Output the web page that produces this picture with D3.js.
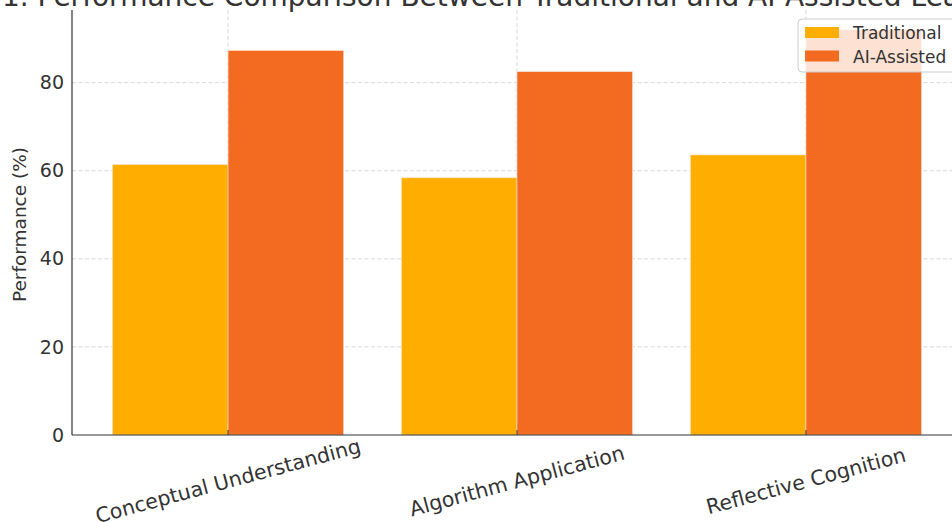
<!DOCTYPE html>
<html>
<head>
<meta charset="utf-8">
<script src="https://cdn.jsdelivr.net/npm/d3@7"></script>
<style>
  body { margin: 0; background: #fff; }
  svg { display: block; font-family: "DejaVu Sans", sans-serif; }
</style>
</head>
<body>
<div id="chart"></div>
<script>
const width = 952;
const height = 522;

// data
const categories = ['Conceptual Understanding', 'Algorithm Application', 'Reflective Cognition'];
const seriesNames = ['Traditional', 'AI-Assisted'];
const traditional = [61.4, 58.4, 63.6];
const aiAssisted = [87.3, 82.5, 92.0];
const yTicks = [0, 20, 40, 60, 80];
const colors = ['#ffae00', '#f36a21'];

const values = [traditional, aiAssisted];

// plot area (right side runs past the window, as in the picture)
const plotLeft = 72, plotRight = 962, plotTop = 10, plotBottom = 435;

let svg = d3.select('#chart').append('svg')
  .attr('width', width)
  .attr('height', height);

let x = d3.scaleBand()
  .domain(categories)
  .range([plotLeft, plotRight])
  .paddingInner(0.2)
  .paddingOuter(0.14);

let xs = d3.scaleBand()
  .domain(seriesNames)
  .range([0, x.bandwidth()]);

let y = d3.scaleLinear()
  .domain([0, 96.5])
  .range([plotBottom, plotTop]);

// grid
let grid = svg.append('g');
grid.selectAll('line.hg')
  .data(yTicks.slice(1))
  .enter().append('line')
  .attr('x1', plotLeft).attr('x2', plotRight)
  .attr('y1', d => y(d)).attr('y2', d => y(d))
  .style('stroke', '#cfcfcf')
  .style('stroke-width', 0.8)
  .style('stroke-dasharray', '4,2.5');
grid.selectAll('line.vg')
  .data(categories)
  .enter().append('line')
  .attr('x1', d => x(d) + x.bandwidth() / 2).attr('x2', d => x(d) + x.bandwidth() / 2)
  .attr('y1', plotTop).attr('y2', plotBottom)
  .style('stroke', '#cfcfcf')
  .style('stroke-width', 0.8)
  .style('stroke-dasharray', '4,2.5');

// bars
seriesNames.forEach(function(s, si) {
  svg.append('g').selectAll('rect')
    .data(categories)
    .enter().append('rect')
    .attr('x', d => x(d) + xs(s))
    .attr('y', (d, i) => y(values[si][i]))
    .attr('width', xs.bandwidth())
    .attr('height', (d, i) => y(0) - y(values[si][i]))
    .style('fill', colors[si])
    .style('stroke', '#fbe3d2')
    .style('stroke-width', 0.6);
});

// y axis
let yAxis = svg.append('g')
  .attr('transform', `translate(${plotLeft},0)`)
  .call(d3.axisLeft(y).tickValues(yTicks).tickSize(0).tickPadding(8));
yAxis.select('.domain').remove();
yAxis.selectAll('text')
  .style('font-family', 'DejaVu Sans')
  .style('font-size', '19px')
  .style('fill', '#333');

// x axis
let xAxis = svg.append('g')
  .attr('transform', `translate(0,${plotBottom})`)
  .call(d3.axisBottom(x).tickSize(-5).tickSizeOuter(0));
xAxis.select('.domain').remove();
xAxis.selectAll('.tick line').style('stroke', '#333').style('stroke-width', 1);
xAxis.selectAll('text')
  .style('font-family', 'DejaVu Sans')
  .style('font-size', '20.5px')
  .style('fill', '#333')
  .attr('y', 0)
  .attr('dy', 0)
  .attr('dominant-baseline', 'central')
  .attr('text-anchor', 'middle')
  .attr('transform', 'translate(0,46) rotate(-15)');

// spines
svg.append('line')
  .attr('x1', plotLeft).attr('x2', plotLeft).attr('y1', plotTop).attr('y2', plotBottom)
  .style('stroke', '#333').style('stroke-width', 1.2);
svg.append('line')
  .attr('x1', plotLeft).attr('x2', plotRight).attr('y1', plotBottom).attr('y2', plotBottom)
  .style('stroke', '#333').style('stroke-width', 1.2);

// y label
svg.append('text')
  .text('Performance (%)')
  .attr('transform', `translate(26,${(plotTop + plotBottom) / 2 + 2}) rotate(-90)`)
  .attr('text-anchor', 'middle')
  .style('font-size', '18.5px')
  .style('fill', '#333');

// title (cut off at the top)
svg.append('text')
  .text('1. Performance Comparison Between Traditional and AI-Assisted Learning')
  .attr('x', (plotLeft + plotRight) / 2)
  .attr('y', 6)
  .attr('text-anchor', 'middle')
  .style('font-size', '28px')
  .style('fill', '#333');

// legend
let lg = svg.append('g').attr('transform', 'translate(798,19)');
lg.append('rect')
  .attr('width', 160).attr('height', 53)
  .attr('rx', 4)
  .style('fill', 'rgba(255,255,255,0.8)')
  .style('stroke', '#cccccc')
  .style('stroke-width', 1);
seriesNames.forEach(function(s, i) {
  lg.append('rect')
    .attr('x', 7).attr('y', 8 + i * 23.5)
    .attr('width', 34).attr('height', 11)
    .style('fill', colors[i]);
  lg.append('text')
    .text(s)
    .attr('x', 55).attr('y', 14 + i * 23.5)
    .attr('dominant-baseline', 'central')
    .style('font-size', '17px')
    .style('fill', '#333');
});
</script>
</body>
</html>
